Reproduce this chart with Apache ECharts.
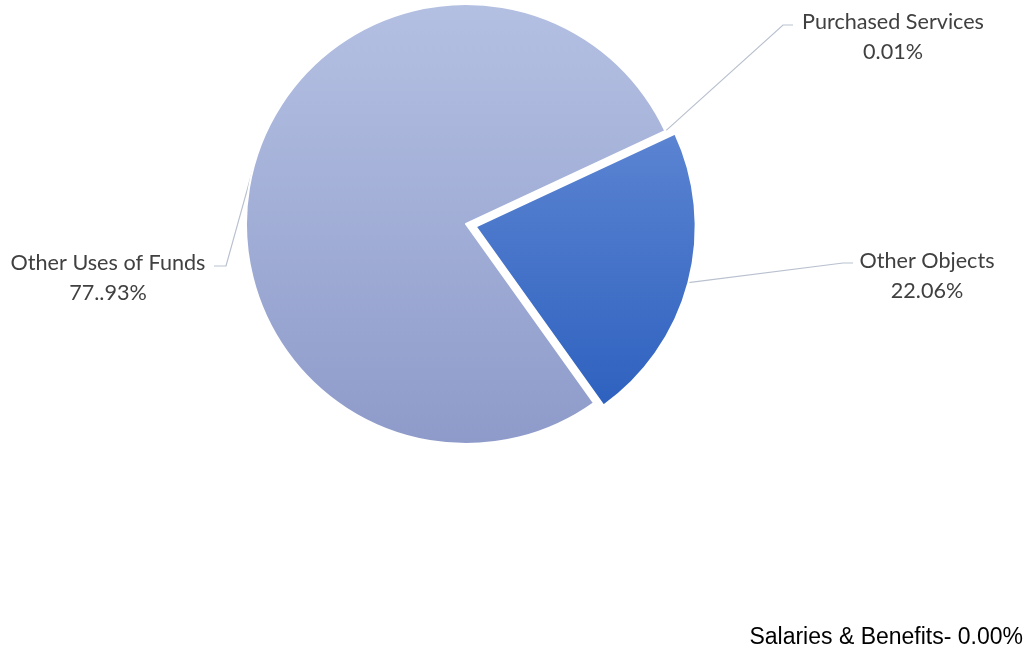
<!DOCTYPE html>
<html>
<head>
<meta charset="utf-8">
<title>Uses of Funds</title>
<script src="https://cdn.jsdelivr.net/npm/echarts@6/dist/echarts.min.js"></script>
<style>
  html, body { margin: 0; padding: 0; background: #ffffff; }
  #chart { width: 1029px; height: 652px; }
</style>
</head>
<body>
<div id="chart"></div>
<script>
// Spending categories, clockwise from the start angle
const categories = ['Salaries & Benefits', 'Purchased Services', 'Other Objects', 'Other Uses of Funds'];
// Share of total, percent
const shares = [0.00, 0.01, 22.06, 77.93];
// Printed share text for each category
const shareLabels = ['0.00%', '0.01%', '22.06%', '77..93%'];
// Slice pulled out of the pie
const explodedName = 'Other Objects';

const chart = echarts.init(document.getElementById('chart'), null, { renderer: 'canvas' });

const CX = 466, CY = 224, R = 220;
const START_ANGLE = 25;
const EXPLODE = 10;

// Where each label block sits (centre x, middle y), and how its leader line bends
const labelPlacement = [
  { x: 1023, y: 638, align: 'right', line: null },
  { x: 893, y: 37, align: 'center', line: [[783, 25], [793, 25]] },
  { x: 927, y: 276, align: 'center', line: [[843, 263], [853, 263]] },
  { x: 108, y: 278, align: 'center', line: [[226, 266], [214, 266]] }
];

const fills = [
  '#4472c4',
  '#4472c4',
  new echarts.graphic.LinearGradient(0, 0, 0, 1, [
    { offset: 0, color: '#5b84d2' },
    { offset: 1, color: '#2e61bf' }
  ]),
  new echarts.graphic.LinearGradient(0, 0, 0, 1, [
    { offset: 0, color: '#b4c0e2' },
    { offset: 1, color: '#8e9bca' }
  ])
];

const calibriLike = {
  fontFamily: 'Lato, "Open Sans", sans-serif',
  fontSize: 21.6,
  lineHeight: 30,
  color: '#404040',
  align: 'center'
};

// Direction of the exploded slice's middle, from the running total of shares
const total = shares.reduce((a, b) => a + b, 0);
const explodedIdx = categories.indexOf(explodedName);
const before = shares.slice(0, explodedIdx).reduce((a, b) => a + b, 0);
const midDeg = START_ANGLE - (before + shares[explodedIdx] / 2) / total * 360;
const midRad = midDeg * Math.PI / 180;
const offX = EXPLODE * Math.cos(midRad);
const offY = -EXPLODE * Math.sin(midRad);

const hidden = { color: 'rgba(0,0,0,0)', borderWidth: 0 };

// Main pie: every slice but the exploded one, plus all the labels
const mainData = categories.map((name, i) => {
  const item = {
    name: name,
    value: shares[i],
    itemStyle: i === explodedIdx ? hidden : { color: fills[i] }
  };
  if (i === 0) {
    item.label = {
      formatter: name + '- ' + shareLabels[i],
      fontFamily: '"Liberation Sans", Arial, sans-serif',
      fontSize: 23,
      color: '#000000',
      align: 'right'
    };
    item.labelLine = { show: false };
  } else {
    item.label = Object.assign({ formatter: name + '\n' + shareLabels[i] }, calibriLike);
  }
  return item;
});

// Exploded slice, drawn from the same shares on a shifted centre
const explodedData = categories.map((name, i) => ({
  name: name,
  value: shares[i],
  itemStyle: i === explodedIdx ? { color: fills[i] } : hidden
}));

chart.setOption({
  animation: false,
  series: [{
    type: 'pie',
    center: [CX, CY],
    radius: [0, R],
    startAngle: START_ANGLE,
    clockwise: true,
    avoidLabelOverlap: false,
    minAngle: 0,
    silent: true,
    data: mainData,
    itemStyle: { borderColor: '#ffffff', borderWidth: 2 },
    emphasis: { disabled: true },
    label: { show: true, position: 'outside' },
    labelLine: {
      show: true,
      length: 20,
      length2: 10,
      smooth: false,
      lineStyle: { color: '#b9c1cf', width: 1.2 }
    },
    labelLayout: function (params) {
      const p = labelPlacement[params.dataIndex];
      const out = { x: p.x, y: p.y, align: p.align, verticalAlign: 'middle' };
      if (p.line && params.labelLinePoints) {
        let start = params.labelLinePoints[0];
        if (params.dataIndex === explodedIdx) start = [start[0] + offX, start[1] + offY];
        out.labelLinePoints = [start, p.line[0], p.line[1]];
      }
      return out;
    }
  }, {
    type: 'pie',
    center: [CX + offX, CY + offY],
    radius: [0, R],
    startAngle: START_ANGLE,
    clockwise: true,
    minAngle: 0,
    silent: true,
    data: explodedData,
    itemStyle: { borderColor: '#ffffff', borderWidth: 2 },
    emphasis: { disabled: true },
    label: { show: false },
    labelLine: { show: false }
  }]
});
</script>
</body>
</html>
